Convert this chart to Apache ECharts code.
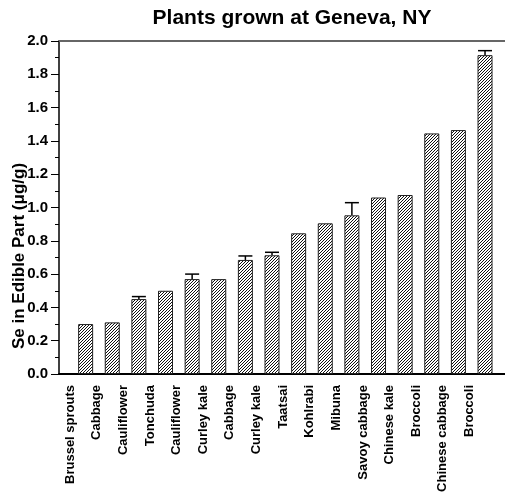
<!doctype html>
<html lang="en">
<head>
    <meta charset="UTF-8">
    <title>Plants grown at Geneva, NY</title>
    <script src="https://cdn.jsdelivr.net/npm/echarts@6/dist/echarts.min.js"></script>
    <style>
        html, body { margin: 0; padding: 0; background: #fff; }
        #main { width: 505px; height: 502px; }
    </style>
</head>
<body>
<div id="main"></div>
<script>
    // plants, in the order they stand on the axis
    var plants = ['Brussel sprouts', 'Cabbage', 'Cauliflower', 'Tonchuda', 'Cauliflower', 'Curley kale',
        'Cabbage', 'Curley kale', 'Taatsai', 'Kohlrabi', 'Mibuna', 'Savoy cabbage', 'Chinese kale',
        'Broccoli', 'Chinese cabbage', 'Broccoli'];
    // Se (ug/g)
    var seValues = [0.30, 0.31, 0.45, 0.50, 0.57, 0.57, 0.685, 0.713, 0.845, 0.905, 0.953, 1.06, 1.075, 1.445, 1.465, 1.915];
    // upper error (0 = none drawn)
    var seErrors = [0, 0, 0.015, 0, 0.03, 0, 0.024, 0.018, 0, 0, 0.076, 0, 0, 0, 0, 0.027];
    var yTicks = [0, 0.2, 0.4, 0.6, 0.8, 1.0, 1.2, 1.4, 1.6, 1.8, 2.0];

    var positions = plants.map(function (p, i) { return i + 1; });

    // diagonal hatch for the bars
    function hatch() {
        var s = 3;
        var c = document.createElement('canvas');
        c.width = s; c.height = s;
        var ctx = c.getContext('2d');
        ctx.fillStyle = '#fff';
        ctx.fillRect(0, 0, s, s);
        ctx.strokeStyle = '#111';
        ctx.lineWidth = 1;
        ctx.beginPath();
        ctx.moveTo(-1, s + 1); ctx.lineTo(s + 1, -1);
        ctx.moveTo(-1, 1); ctx.lineTo(1, -1);
        ctx.moveTo(s - 1, s + 1); ctx.lineTo(s + 1, s - 1);
        ctx.stroke();
        return c;
    }

    var myChart = echarts.init(document.getElementById('main'));
    var font = 'Arial, "Liberation Sans", sans-serif';

    var option = {
        animation: false,
        title: {
            text: 'Plants grown at Geneva, NY',
            left: 287,
            textAlign: 'center',
            top: 3,
            textStyle: { fontFamily: font, fontWeight: 'bold', fontSize: 21, color: '#000' }
        },
        grid: { left: 59, right: 0, top: 41, bottom: 128 },
        xAxis: [
            {
                type: 'value',
                min: 0,
                max: 16.75,
                interval: 1,
                position: 'bottom',
                axisLine: { lineStyle: { color: '#000', width: 2 } },
                axisTick: { show: false },
                splitLine: { show: false },
                axisLabel: {
                    rotate: 90,
                    margin: 11,
                    verticalAlign: 'bottom',
                    lineHeight: 31,
                    showMaxLabel: false,
                    fontFamily: font,
                    fontWeight: 'bold',
                    fontSize: 13,
                    color: '#000',
                    formatter: function (v) { return plants[v - 1] || ''; }
                }
            },
            {
                type: 'value',
                min: 0,
                max: 16.75,
                position: 'top',
                axisLine: { lineStyle: { color: '#666', width: 2 } },
                axisTick: { show: false },
                axisLabel: { show: false },
                splitLine: { show: false }
            }
        ],
        yAxis: {
            type: 'value',
            min: yTicks[0],
            max: yTicks[yTicks.length - 1],
            interval: 0.2,
            axisLine: { show: true, lineStyle: { color: '#000', width: 1.5 } },
            axisTick: { show: true, length: 8, lineStyle: { color: '#000' } },
            minorTick: { show: true, splitNumber: 2, length: 4, lineStyle: { color: '#000' } },
            splitLine: { show: false },
            axisLabel: {
                margin: 11,
                fontFamily: font,
                fontWeight: 'bold',
                fontSize: 15,
                color: '#000',
                formatter: function (v) { return v.toFixed(1); }
            }
        },
        graphic: [{
            type: 'text',
            x: 19,
            y: 256,
            rotation: Math.PI / 2,
            style: {
                text: 'Se in Edible Part (\u03bcg/g)',
                font: 'bold 17px ' + font,
                fill: '#000',
                textAlign: 'center',
                textVerticalAlign: 'middle'
            }
        }],
        series: [
            {
                type: 'bar',
                barWidth: 15,
                itemStyle: {
                    color: { image: hatch(), repeat: 'repeat' },
                    borderColor: '#222',
                    borderWidth: 1
                },
                data: positions.map(function (x, i) { return [x, seValues[i]]; })
            },
            {
                type: 'custom',
                renderItem: function (params, api) {
                    var x = api.value(0), v = api.value(1), e = api.value(2);
                    if (!e) return;
                    var base = api.coord([x, v]);
                    var top = api.coord([x, v + e]);
                    var style = { stroke: '#000', lineWidth: 1.5 };
                    return {
                        type: 'group',
                        children: [
                            { type: 'line', shape: { x1: base[0], y1: base[1], x2: top[0], y2: top[1] }, style: style },
                            { type: 'line', shape: { x1: top[0] - 7, y1: top[1], x2: top[0] + 7, y2: top[1] }, style: style }
                        ]
                    };
                },
                data: positions.map(function (x, i) { return [x, seValues[i], seErrors[i]]; }),
                z: 5
            }
        ]
    };
    myChart.setOption(option);
</script>
</body>
</html>
